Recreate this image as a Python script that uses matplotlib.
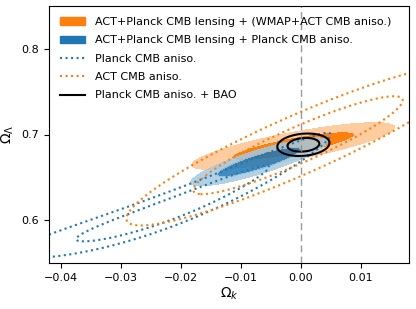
import numpy as np
import matplotlib
matplotlib.use('Agg')
import matplotlib.pyplot as plt
from matplotlib.patches import Patch
from matplotlib.lines import Line2D

# posterior shapes (Omega_k, Omega_Lambda)
labels = ['ACT+Planck CMB lensing + (WMAP+ACT CMB aniso.)',
          'ACT+Planck CMB lensing + Planck CMB aniso.',
          'Planck CMB aniso.',
          'ACT CMB aniso.',
          'Planck CMB aniso. + BAO']
ok_mean = [-0.0013, -0.0070, -0.0214, -0.0005, 0.0004]
ok_sigma = [0.0068, 0.00457, 0.0106, 0.0115, 0.00175]
ol_mean = [0.6865, 0.668, 0.6138, 0.6875, 0.688]
ol_slope = [1.3, 2.11, 2.625, 3.0, 0.5]
ol_bend = [0.0, 0.0, 24.3, 0.0, 0.0]
ol_width = [0.0065, 0.0058, 0.00844, 0.0151, 0.0052]
levels = [2.30, 6.18]   # 68% / 95%

xticks = [-0.04, -0.03, -0.02, -0.01, 0.00, 0.01]
yticks = [0.6, 0.7, 0.8]

def chi2(i, X, Y):
    d = X - ok_mean[i]
    u = d / ok_sigma[i]
    r = (Y - ol_mean[i] - ol_slope[i] * d - ol_bend[i] * d**2) / ol_width[i]
    return u**2 + r**2

def pale(c):
    rgb = matplotlib.colors.to_rgb(c)
    return tuple(v * 0.4 + 0.6 for v in rgb)

x = np.linspace(-0.042, 0.018, 500)
y = np.linspace(0.55, 0.85, 500)
X, Y = np.meshgrid(x, y)

plt.rcParams['font.size'] = 8
fig = plt.figure(figsize=(4.16, 3.09), dpi=100)
ax = fig.add_axes([49/416, 1-263/309, 360/416, 257/309])

orange = '#ff7f0e'
blue = '#1f77b4'

ax.contourf(X, Y, chi2(0, X, Y), levels=[0] + levels, colors=[orange, pale(orange)])
ax.contourf(X, Y, chi2(1, X, Y), levels=[0] + levels, colors=[blue, pale(blue)], alpha=0.85)
ax.contour(X, Y, chi2(2, X, Y), levels=levels, colors=blue, linestyles=':', linewidths=1.5)
ax.contour(X, Y, chi2(3, X, Y), levels=levels, colors=orange, linestyles=':', linewidths=1.5)
ax.contour(X, Y, chi2(4, X, Y), levels=levels, colors='k', linestyles='-', linewidths=1.5)

ax.axvline(0, color='grey', ls=(0, (5, 3)), lw=1, alpha=0.8)

ax.set_xlim(-0.042, 0.018)
ax.set_ylim(0.55, 0.85)
ax.set_xticks(xticks)
ax.set_yticks(yticks)
ax.set_xlabel(r'$\Omega_k$', fontsize=10, labelpad=2)
ax.set_ylabel(r'$\Omega_\Lambda$', fontsize=10)

handles = [Patch(color=orange), Patch(color=blue),
           Line2D([], [], color=blue, ls=':', lw=1.5),
           Line2D([], [], color=orange, ls=':', lw=1.5),
           Line2D([], [], color='k', lw=1.5)]
ax.legend(handles, labels, loc='upper left', frameon=False, fontsize=8,
          borderaxespad=0.6, handlelength=2.2, handletextpad=0.9,
          labelspacing=0.75)

fig.savefig('out.png', dpi=100)
